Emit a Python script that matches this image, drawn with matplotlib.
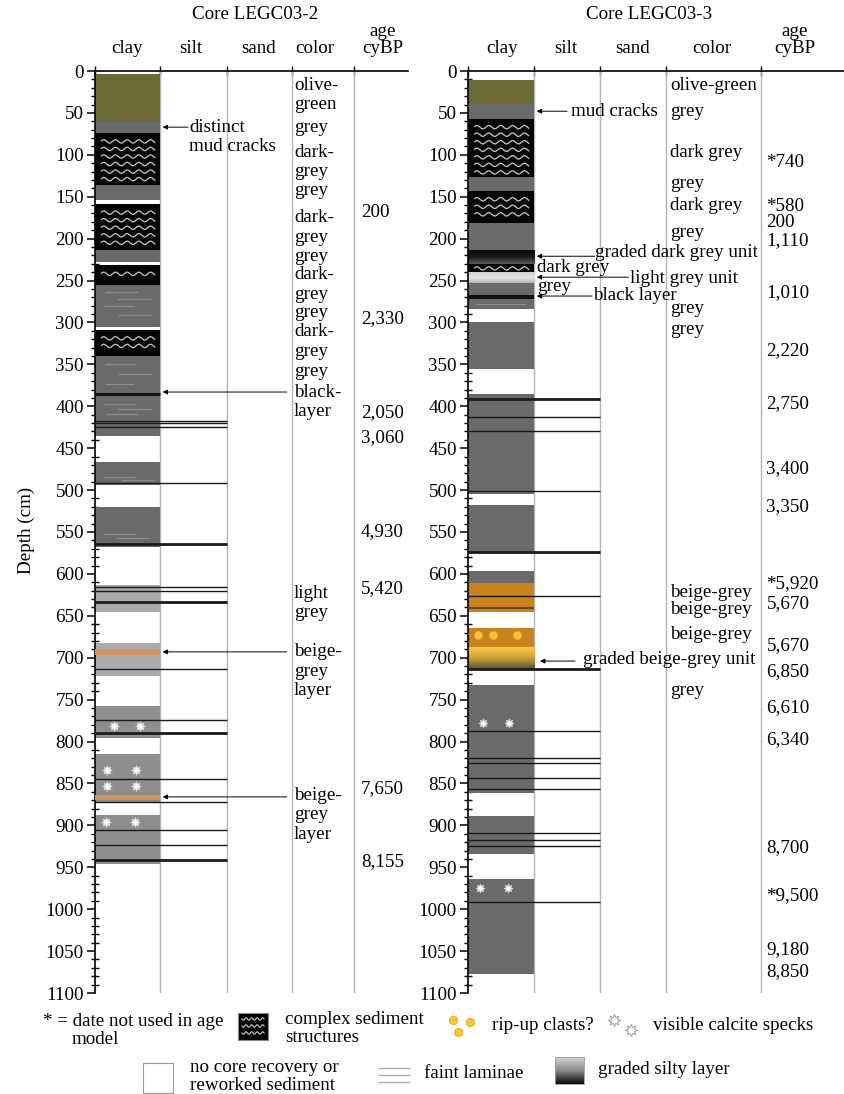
import numpy as np
import matplotlib
matplotlib.use("Agg")
import matplotlib.pyplot as plt
from matplotlib.colors import LinearSegmentedColormap
from matplotlib.ticker import MultipleLocator
from matplotlib.patches import Rectangle

plt.rcParams['font.family'] = ['Liberation Serif', 'DejaVu Serif']
FS = 13.7

# ---------------- core LEGC03-2 ----------------
c2_top = [4, 60, 74, 136, 159, 214, 232, 255, 309, 340, 467, 520, 613, 682, 757, 815, 888]
c2_bot = [60, 74, 136, 154, 214, 228, 255, 306, 340, 435, 494, 568, 645, 722, 796, 873, 946]
c2_kind = ['olive', 'grey', 'complex', 'grey', 'complex', 'grey', 'complex', 'grey',
           'complex', 'grey', 'grey', 'grey', 'light', 'light', 'mid', 'mid', 'mid']
c2_beige_top = [690, 864]
c2_beige_bot = [697, 870]
c2_lines = [417, 420, 425, 492, 564, 616, 620, 634, 713, 774, 790, 845, 872, 905, 924, 941]
c2_line_w = [1, 1, 1, 1, 2, 1, 1, 2, 1, 1, 2, 1, 1, 1, 1, 2]
c2_clay_lines = [385]
c2_clay_line_w = [2.2]
c2_faint = [264, 272, 280, 291, 350, 361, 374, 397, 403, 409, 484, 488, 552, 557]
c2_faint_x0 = [0.15, 0.34, 0.12, 0.35, 0.15, 0.35, 0.15, 0.12, 0.35, 0.17, 0.12, 0.40, 0.12, 0.33]
c2_faint_x1 = [0.66, 0.88, 0.60, 0.88, 0.62, 0.87, 0.60, 0.62, 0.87, 0.64, 0.62, 0.90, 0.62, 0.85]
c2_speck_d = [781, 781, 834, 834, 853, 853, 896, 896]
c2_speck_x = [0.29, 0.69, 0.18, 0.63, 0.18, 0.63, 0.17, 0.62]
c2_colors = [(17, 'olive-\ngreen'), (67, 'grey'), (97, 'dark-\ngrey'), (143, 'grey'),
             (175, 'dark-\ngrey'), (221, 'grey'), (243, 'dark-\ngrey'), (288, 'grey'),
             (311, 'dark-\ngrey'), (359, 'grey'), (383, 'black-\nlayer'),
             (623, 'light\ngrey'), (693, 'beige-\ngrey\nlayer'), (864, 'beige-\ngrey\nlayer')]
c2_ages = [(169, '200'), (295, '2,330'), (407, '2,050'), (437, '3,060'), (550, '4,930'),
           (617, '5,420'), (856, '7,650'), (943, '8,155')]

# ---------------- core LEGC03-3 ----------------
c3_top = [11, 39, 57, 126, 143, 181, 214, 230, 241, 253, 267, 272, 299, 385, 518, 597,
          611, 664, 688, 732, 889, 964]
c3_bot = [39, 57, 126, 143, 181, 214, 230, 241, 253, 267, 272, 284, 355, 505, 575, 611,
          645, 688, 714, 861, 934, 1077]
c3_kind = ['olive', 'grey', 'complex', 'grey', 'complex', 'grey', 'graded_dark', 'complex',
           'graded_light', 'grey', 'black', 'grey', 'grey', 'grey', 'grey', 'grey',
           'orange', 'orange', 'graded_beige', 'grey', 'grey', 'grey']
c3_lines = [391, 413, 430, 501, 574, 626, 714, 788, 820, 825, 843, 857, 909, 917, 925, 991]
c3_line_w = [2, 1, 1, 1, 2, 1, 2, 1, 1, 1, 1, 1, 1, 1, 1, 1]
c3_clay_lines = [641]
c3_clay_line_w = [1.5]
c3_faint = [278]
c3_faint_x0 = [0.10]
c3_faint_x1 = [0.88]
c3_speck_d = [778, 778, 975, 975]
c3_speck_x = [0.23, 0.62, 0.18, 0.61]
c3_clast_d = [673, 673, 673]
c3_clast_x = [0.15, 0.38, 0.74]
c3_colors = [(17, 'olive-green'), (48, 'grey'), (97, 'dark grey'), (134, 'grey'),
             (160, 'dark grey'), (193, 'grey'), (283, 'grey'), (309, 'grey'),
             (622, 'beige-grey'), (643, 'beige-grey'), (672, 'beige-grey'), (739, 'grey')]
c3_ages = [(109, '*740'), (162, '*580'), (181, '200'), (202, '1,110'), (264, '1,010'),
           (333, '2,220'), (397, '2,750'), (474, '3,400'), (520, '3,350'), (611, '*5,920'),
           (636, '5,670'), (686, '5,670'), (717, '6,850'), (759, '6,610'), (798, '6,340'),
           (926, '8,700'), (984, '*9,500'), (1048, '9,180'), (1075, '8,850')]

fills = {'olive': '#6b6a36', 'grey': '#6a6a6a', 'complex': '#050505', 'light': '#aaaaaa',
         'mid': '#8e8e8e', 'orange': '#c8821f', 'black': '#111111'}
grads = {'graded_dark': ['#0a0a0a', '#1a1a1a', '#5a5a5a'],
         'graded_light': ['#d2d2d2', '#e4e4e4', '#b4b4b4'],
         'graded_beige': ['#f6c940', '#c9a23c', '#5c5133']}

LINE_STEP = 23.3   # cm between stacked text lines


def waves(ax, top, bot, x0=0.1, x1=0.92, color='#c8c8c8'):
    xs = np.linspace(x0, x1, 150)
    rows = np.arange(top + 10, bot - 4, 9) if bot - top > 16 else [0.5 * (top + bot)]
    for d in rows:
        ax.plot(xs, d + 2.0 * np.sin(2 * np.pi * xs / 0.18), color=color, lw=0.9, zorder=4)


def stacked(ax, x, depth, text, **kw):
    for i, line in enumerate(text.split('\n')):
        ax.text(x, depth + i * LINE_STEP, line, fontsize=FS, va='center', ha='left',
                clip_on=False, **kw)


def draw_core(ax, tops, bots, kinds, xmax, bounds):
    ax.set_xlim(0, xmax)
    ax.set_ylim(1100, 0)
    ax.set_axisbelow(True)
    for s in ('right', 'bottom'):
        ax.spines[s].set_visible(False)
    ax.spines['left'].set_linewidth(1.2)
    ax.spines['top'].set_linewidth(1.2)
    ax.patch.set_alpha(0)

    ax.vlines(bounds, 0, 1100, colors='#b4b4b4', linewidth=1.0, zorder=1)

    for t, b, k in zip(tops, bots, kinds):
        if k in grads:
            cm = LinearSegmentedColormap.from_list(k, grads[k])
            ax.imshow(np.linspace(0, 1, 64).reshape(-1, 1), cmap=cm, aspect='auto',
                      extent=(0, 1, b, t), zorder=2)
        else:
            ax.bar(0.5, b - t, bottom=t, width=1, color=fills[k], linewidth=0, zorder=2)
        if k == 'complex':
            waves(ax, t, b)
    ax.set_xlim(0, xmax)
    ax.set_ylim(1100, 0)

    ax.yaxis.set_major_locator(MultipleLocator(50))
    ax.yaxis.set_minor_locator(MultipleLocator(10))
    ax.tick_params(axis='y', which='major', direction='out', length=6, width=1.1,
                   labelsize=FS, pad=2)
    ax.tick_params(axis='y', which='minor', direction='inout', length=6, width=1.0)
    ax.xaxis.set_ticks_position('top')
    ax.set_xticks([0] + list(bounds))
    ax.tick_params(axis='x', direction='inout', length=7, width=1.0, labeltop=False,
                   labelbottom=False)


fig = plt.figure(figsize=(8.45, 10.94), dpi=100)
W, H = 845.0, 1094.0
y_bot, y_top = 993.0, 71.0


def px_axes(x0, x1):
    return fig.add_axes([x0 / W, 1 - y_bot / H, (x1 - x0) / W, (y_bot - y_top) / H])


# ---- left core ----
ax2 = px_axes(95, 408)
b2 = [1, 2.03, 3.03, 3.98]
draw_core(ax2, c2_top, c2_bot, c2_kind, 4.815, b2)
ax2.bar(0.5, np.subtract(c2_beige_bot, c2_beige_top), bottom=c2_beige_top, width=1,
        color='#cf9462', linewidth=0, zorder=3)
ax2.hlines(c2_lines, 0, 2.03, colors='#1a1a1a', linewidths=c2_line_w, zorder=5)
ax2.hlines(c2_clay_lines, 0, 1, colors='#111111', linewidths=c2_clay_line_w, zorder=5)
ax2.hlines(c2_faint, c2_faint_x0, c2_faint_x1, colors='#8c8c8c', linewidths=0.9, zorder=3)
ax2.plot(c2_speck_x, c2_speck_d, ls='none', marker=(8, 1, 0), ms=7, mfc='white',
         mec='#d8d8d8', mew=0.6, zorder=6)
for d, t in c2_colors:
    stacked(ax2, 3.06, d, t)
for d, t in c2_ages:
    ax2.text(4.09, d, t, fontsize=FS, va='center', ha='left')
for x, t in zip([0.49, 1.48, 2.52, 3.38], ['clay', 'silt', 'sand', 'color']):
    ax2.text(x, -27, t, fontsize=FS, ha='center', va='center', clip_on=False)
ax2.text(4.42, -47, 'age', fontsize=FS, ha='center', va='center', clip_on=False)
ax2.text(4.42, -27, 'cyBP', fontsize=FS, ha='center', va='center', clip_on=False)
ax2.text(2.46, -67, 'Core LEGC03-2', fontsize=FS, ha='center', va='center', clip_on=False)
ax2.text(-1.05, 548, 'Depth (cm)', fontsize=FS, ha='center', va='center', rotation=90,
         clip_on=False)

stacked(ax2, 1.45, 67, 'distinct\nmud cracks')
arrow = dict(arrowstyle='-|>', color='black', lw=0.7, mutation_scale=7, shrinkA=0, shrinkB=0)
for x0, d in [(1.43, 67), (2.95, 383), (2.95, 693), (2.95, 866)]:
    ax2.annotate('', xy=(1.04, d), xytext=(x0, d), arrowprops=arrow, zorder=6)

# ---- right core ----
ax3 = px_axes(468, 845)
b3 = [1, 2, 3, 4.44]
draw_core(ax3, c3_top, c3_bot, c3_kind, 5.71, b3)
ax3.hlines(c3_lines, 0, 2, colors='#1a1a1a', linewidths=c3_line_w, zorder=5)
ax3.hlines(c3_clay_lines, 0, 1, colors='#6b4a1a', linewidths=c3_clay_line_w, zorder=5)
ax3.hlines(c3_faint, c3_faint_x0, c3_faint_x1, colors='#8c8c8c', linewidths=0.9, zorder=3)
ax3.plot(c3_speck_x, c3_speck_d, ls='none', marker=(8, 1, 0), ms=6.5, mfc='white',
         mec='#d8d8d8', mew=0.6, zorder=6)
ax3.plot(c3_clast_x, c3_clast_d, ls='none', marker='o', ms=6, mfc='#f5c53a',
         mec='#e8a820', mew=0.6, zorder=6)
for d, t in c3_colors:
    stacked(ax3, 3.06, d, t)
for d, t in c3_ages:
    ax3.text(4.52, d, t, fontsize=FS, va='center', ha='left')
for x, t in zip([0.52, 1.48, 2.5, 3.7], ['clay', 'silt', 'sand', 'color']):
    ax3.text(x, -27, t, fontsize=FS, ha='center', va='center', clip_on=False)
ax3.text(4.95, -47, 'age', fontsize=FS, ha='center', va='center', clip_on=False)
ax3.text(4.95, -27, 'cyBP', fontsize=FS, ha='center', va='center', clip_on=False)
ax3.text(2.74, -67, 'Core LEGC03-3', fontsize=FS, ha='center', va='center', clip_on=False)

stacked(ax3, 1.56, 48, 'mud cracks')
stacked(ax3, 1.92, 216, 'graded dark grey unit')
stacked(ax3, 1.05, 234, 'dark grey')
stacked(ax3, 2.45, 247, 'light grey unit')
stacked(ax3, 1.05, 257, 'grey')
stacked(ax3, 1.89, 268, 'black layer')
stacked(ax3, 1.74, 702, 'graded beige-grey unit')
for x0, x1, d in [(1.5, 1.04, 48), (1.92, 1.04, 221), (2.43, 1.04, 246), (1.88, 1.04, 268.5),
                  (1.62, 1.09, 704)]:
    ax3.annotate('', xy=(x1, d), xytext=(x0, d), arrowprops=arrow, zorder=6)

# ---- key ----
ov = fig.add_axes([0, 0, 1, 1])
ov.set_xlim(0, W)
ov.set_ylim(H, 0)
ov.axis('off')
ov.text(43, 1022, '* = date not used in age', fontsize=FS, va='center')
ov.text(72, 1040, 'model', fontsize=FS, va='center')
ov.add_patch(Rectangle((238, 1013), 30, 27, facecolor='#050505', edgecolor='#888888', lw=0.8))
xs = np.linspace(242, 264, 60)
for yy in (1019, 1026, 1033):
    ov.plot(xs, yy + 1.2 * np.sin(2 * np.pi * (xs - 242) / 5.5), color='#d0d0d0', lw=0.8)
ov.text(285, 1020, 'complex sediment', fontsize=FS, va='center')
ov.text(285, 1038, 'structures', fontsize=FS, va='center')
ov.plot([453, 470, 458], [1020, 1022, 1032], ls='none', marker='o', ms=6, mfc='#f5c53a',
        mec='#e8a820', mew=0.6)
ov.text(492, 1026, 'rip-up clasts?', fontsize=FS, va='center')
ov.plot([614, 631], [1020, 1030], ls='none', marker=(8, 1, 0), ms=9, mfc='white',
        mec='#a0a0a0', mew=0.7)
ov.text(653, 1026, 'visible calcite specks', fontsize=FS, va='center')
ov.add_patch(Rectangle((143, 1063), 30, 30, facecolor='white', edgecolor='#999999', lw=0.8))
ov.text(190, 1067, 'no core recovery or', fontsize=FS, va='center')
ov.text(190, 1085, 'reworked sediment', fontsize=FS, va='center')
ov.hlines([1068, 1075, 1082], 378, 410, colors='#b0b0b0', linewidth=1.0)
ov.text(424, 1073, 'faint laminae', fontsize=FS, va='center')
gcm = LinearSegmentedColormap.from_list('graded', ['#d4d4d4', '#8a8a8a', '#0a0a0a'])
ov.imshow(np.linspace(0, 1, 64).reshape(-1, 1), cmap=gcm, aspect='auto',
          extent=(555, 584, 1084, 1057))
ov.add_patch(Rectangle((555, 1057), 29, 27, facecolor='none', edgecolor='#999999', lw=0.6))
ov.set_xlim(0, W)
ov.set_ylim(H, 0)
ov.text(598, 1069, 'graded silty layer', fontsize=FS, va='center')

fig.savefig('out.png', dpi=100)
